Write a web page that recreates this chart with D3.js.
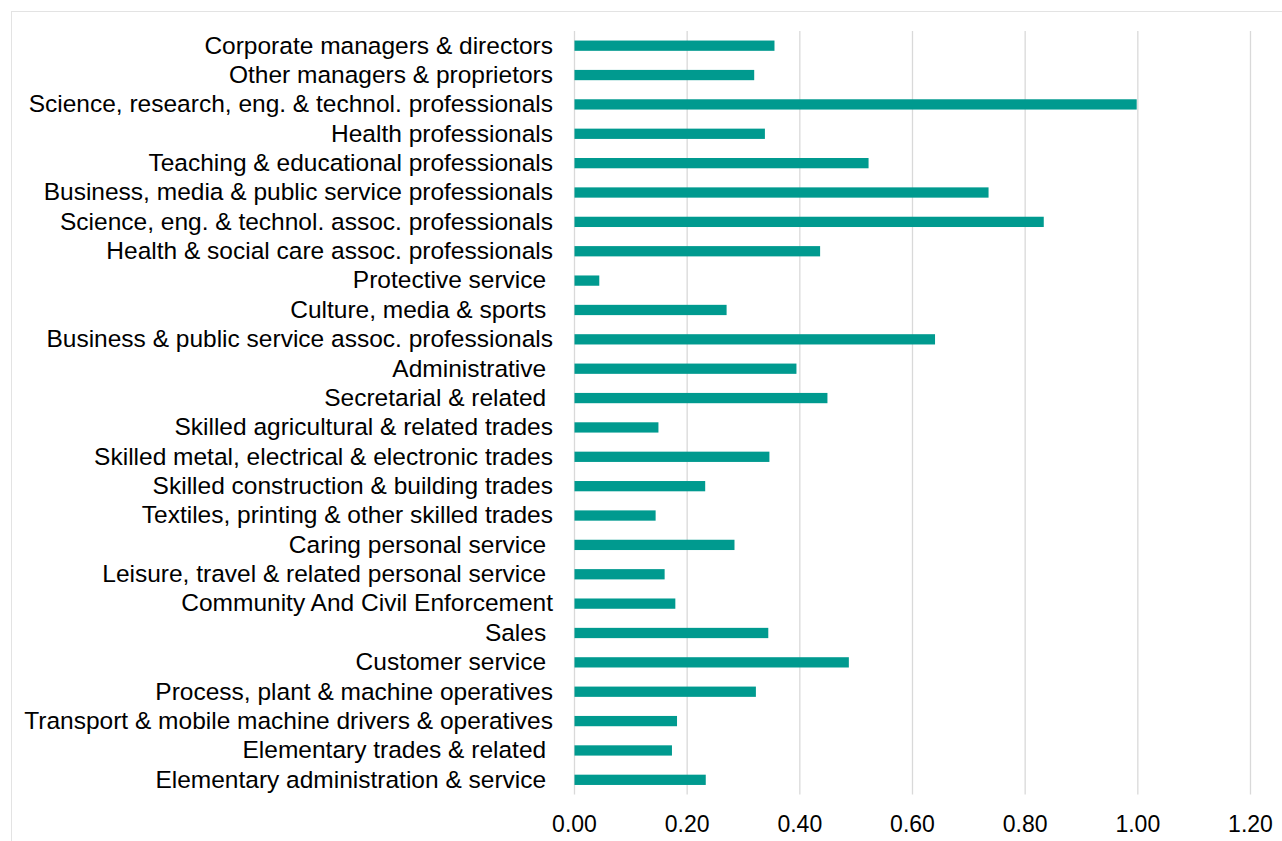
<!DOCTYPE html>
<html>
<head>
<meta charset="utf-8">
<script src="https://cdn.jsdelivr.net/npm/d3@7"></script>
<style>
  html, body { margin: 0; padding: 0; background: #fff; }
  svg text { font-family: "Liberation Sans", Arial, sans-serif; fill: #000; white-space: pre; }
</style>
</head>
<body>
<svg id="chart" width="1282" height="841"></svg>
<script>
// Occupation groups, top to bottom (some labels carry a trailing space)
const categories = [
  "Corporate managers & directors",
  "Other managers & proprietors",
  "Science, research, eng. & technol. professionals",
  "Health professionals",
  "Teaching & educational professionals",
  "Business, media & public service professionals",
  "Science, eng. & technol. assoc. professionals",
  "Health & social care assoc. professionals",
  "Protective service ",
  "Culture, media & sports ",
  "Business & public service assoc. professionals",
  "Administrative ",
  "Secretarial & related ",
  "Skilled agricultural & related trades",
  "Skilled metal, electrical & electronic trades",
  "Skilled construction & building trades",
  "Textiles, printing & other skilled trades",
  "Caring personal service ",
  "Leisure, travel & related personal service ",
  "Community And Civil Enforcement",
  "Sales ",
  "Customer service ",
  "Process, plant & machine operatives",
  "Transport & mobile machine drivers & operatives",
  "Elementary trades & related ",
  "Elementary administration & service "
];

const values = [
  0.355, 0.319, 0.998, 0.338, 0.522, 0.735, 0.833, 0.436,
  0.044, 0.270, 0.640, 0.394, 0.449, 0.149, 0.346, 0.232,
  0.144, 0.284, 0.160, 0.179, 0.344, 0.487, 0.322, 0.182,
  0.173, 0.233
];

const tickValues = [0, 0.2, 0.4, 0.6, 0.8, 1.0, 1.2];

const svg = d3.select("#chart");

// Chart frame
svg.append("rect")
  .attr("x", 11.5).attr("y", 11.5)
  .attr("width", 1282).attr("height", 841)
  .attr("fill", "none")
  .attr("stroke", "#e3e3e3")
  .attr("stroke-width", 1);

const x = d3.scaleLinear().domain([0, 1.2]).range([574.5, 1250.5]);
const y = d3.scaleBand().domain(categories).range([31, 794.5]).paddingInner(0.65).paddingOuter(0.325);

// Vertical gridlines
svg.append("g")
  .selectAll("line")
  .data(tickValues)
  .join("line")
  .attr("x1", d => x(d)).attr("x2", d => x(d))
  .attr("y1", 31).attr("y2", 794.5)
  .attr("stroke", "#d9d9d9")
  .attr("stroke-width", 1.3);

// Bars
svg.append("g")
  .selectAll("rect")
  .data(values)
  .join("rect")
  .attr("x", x(0))
  .attr("y", (d, i) => y(categories[i]))
  .attr("width", d => x(d) - x(0))
  .attr("height", y.bandwidth())
  .attr("fill", "#009a8f");

// Category labels
svg.append("g")
  .selectAll("text")
  .data(categories)
  .join("text")
  .attr("x", 553)
  .attr("y", d => y(d) + y.bandwidth() / 2)
  .attr("dy", "0.32em")
  .attr("text-anchor", "end")
  .attr("font-size", 24.5)
  .text(d => d);

// Value axis labels
const fmt = d3.format(".2f");
svg.append("g")
  .selectAll("text")
  .data(tickValues)
  .join("text")
  .attr("x", d => x(d))
  .attr("y", 831.5)
  .attr("text-anchor", "middle")
  .attr("font-size", 23)
  .text(d => fmt(d));
</script>
</body>
</html>
